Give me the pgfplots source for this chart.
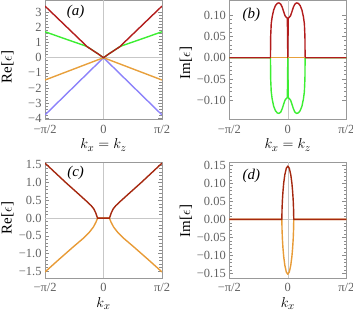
\documentclass[border=0pt]{standalone}
\usepackage{fontspec}
\setmainfont{Liberation Serif}
\usepackage{pgfplots}
\pgfplotsset{compat=1.18}
\definecolor{aRed}{RGB}{178,28,28}
\definecolor{aGreen}{RGB}{60,238,50}
\definecolor{aOrange}{RGB}{232,160,60}
\definecolor{aBlue}{RGB}{140,130,250}
\definecolor{cRed}{RGB}{165,40,15}
\definecolor{cOrange}{RGB}{232,155,55}
\pgfplotsset{
 mystyle/.style={
  scale only axis, width=117bp,
  xmin=-1.5708, xmax=1.5708,
  axis line style={draw=black!40, line width=0.6bp},
  tick style={draw=black!45, line width=0.5bp},
  major tick length=4bp, minor tick length=2.5bp,
  tick align=inside,
  xtick={-1.5708,0,1.5708}, xticklabels={−π/2,0,π/2},
  ticklabel style={font=\fontsize{12.5}{13}\selectfont, text=black!62},
  xticklabel style={yshift=-2bp},
  label style={font=\fontsize{15}{17}\selectfont},
  minor y tick num=4,
  extra x ticks={0}, extra y ticks={0}, extra x tick labels={}, extra y tick labels={},
  extra tick style={grid=major, major grid style={black!22, line width=0.5bp}, major tick length=0pt},
  xlabel style={at={(axis description cs:0.5,0)}, anchor=center, yshift=-25.5bp},
  every axis plot/.append style={line width=1.4bp, line join=round},
 }
}
\begin{document}
\begin{tikzpicture}
\path[use as bounding box] (0,0) rectangle (353bp,317bp);
% (a)
\begin{axis}[mystyle, at={(45bp,197.5bp)}, anchor=south west, height=119.5bp,
  ymin=-4.07, ymax=3.80, ytick={-4,-3,-2,-1,0,1,2,3},
  yticklabels={−4,−3,−2,−1,0,1,2,3},
  xlabel={$k_x = k_z$}, ylabel={Re[$\epsilon$]},
  ylabel style={at={(axis description cs:-0.32,0.44)}, anchor=center}]
\addplot[aBlue] coordinates {(-1.5708,-3.77) (0,0) (1.5708,-3.77)};
\addplot[aOrange] coordinates {(-1.5708,-1.47) (0,0) (1.5708,-1.47)};
\addplot[aGreen] coordinates {(-1.5708,1.71) (-1.1,1.30) (-0.7,0.96) (-0.5,0.79) (-0.436,0.72) (-0.3,0.50) (-0.15,0.26) (0,0) (0.15,0.26) (0.3,0.50) (0.436,0.72) (0.5,0.79) (0.7,0.96) (1.1,1.30) (1.5708,1.71)};
\addplot[aRed] coordinates {(-1.5708,3.40) (-0.436,0.72) (-0.3,0.50) (-0.15,0.26) (0,0) (0.15,0.26) (0.3,0.50) (0.436,0.72) (1.5708,3.40)};
\node[font=\fontsize{15}{16}\selectfont\itshape] at (axis cs:-0.75,3.0) {(a)};
\end{axis}
% (b)
\begin{axis}[mystyle, at={(229.3bp,197.5bp)}, anchor=south west, height=119.5bp,
  ymin=-0.1454, ymax=0.1358, ytick={-0.1,-0.05,0,0.05,0.1},
  yticklabels={−0.10,−0.05,0.00,0.05,0.10},
  minor y tick num=4,
  xlabel={$k_x = k_z$}, ylabel={Im[$\epsilon$]},
  ylabel style={at={(axis description cs:-0.37,0.473)}, anchor=center}]
\addplot[aOrange] coordinates {(-1.5708,0) (1.5708,0)};
\addplot[aGreen] coordinates {(-1.5708,0) (-0.465,0) (-0.46,-0.05) (-0.445,-0.08) (-0.42,-0.097) (-0.38,-0.114) (-0.33,-0.125) (-0.28,-0.130) (-0.235,-0.131) (-0.19,-0.128) (-0.15,-0.120) (-0.11,-0.109) (-0.075,-0.100) (-0.04,-0.096) (-0.012,-0.094) (0,0) (0.012,-0.094) (0.04,-0.096) (0.075,-0.100) (0.11,-0.109) (0.15,-0.120) (0.19,-0.128) (0.235,-0.131) (0.28,-0.130) (0.33,-0.125) (0.38,-0.114) (0.42,-0.097) (0.445,-0.08) (0.46,-0.05) (0.465,0) (1.5708,0)};
\addplot[aRed] coordinates {(-1.5708,0) (-0.465,0) (-0.46,0.05) (-0.445,0.08) (-0.42,0.096) (-0.38,0.112) (-0.33,0.123) (-0.28,0.128) (-0.235,0.129) (-0.19,0.126) (-0.15,0.119) (-0.11,0.108) (-0.075,0.099) (-0.04,0.095) (-0.012,0.093) (0,0) (0.012,0.093) (0.04,0.095) (0.075,0.099) (0.11,0.108) (0.15,0.119) (0.19,0.126) (0.235,0.129) (0.28,0.128) (0.33,0.123) (0.38,0.112) (0.42,0.096) (0.445,0.08) (0.46,0.05) (0.465,0) (1.5708,0)};
\addplot[aOrange, line width=1.2bp] coordinates {(-0.455,0) (-0.01,0)};
\addplot[aOrange, line width=1.2bp] coordinates {(0.01,0) (0.455,0)};
\node[font=\fontsize{15}{16}\selectfont\itshape] at (axis cs:-0.98,0.1) {(b)};
\end{axis}
% (c)
\begin{axis}[mystyle, at={(45bp,39bp)}, anchor=south west, height=115.5bp,
  ymin=-1.69, ymax=1.568, ytick={-1.5,-1,-0.5,0,0.5,1,1.5},
  yticklabels={−1.5,−1.0,−0.5,0.0,0.5,1.0,1.5},
  xlabel={$k_x$}, ylabel={Re[$\epsilon$]},
  ylabel style={at={(axis description cs:-0.32,0.519)}, anchor=center}]
\addplot[cOrange] coordinates {(-1.5708,-1.52) (-1.2,-1.17) (-0.81,-0.81) (-0.52,-0.55) (-0.38,-0.40) (-0.27,-0.25) (-0.2,-0.11) (-0.16,0) (0.16,0) (0.2,-0.11) (0.27,-0.25) (0.38,-0.40) (0.52,-0.55) (0.81,-0.81) (1.2,-1.17) (1.5708,-1.52)};
\addplot[cRed] coordinates {(-1.5708,1.55) (-1.0,0.99) (-0.66,0.67) (-0.45,0.47) (-0.33,0.35) (-0.26,0.26) (-0.21,0.15) (-0.18,0.06) (-0.16,0) (0.16,0) (0.18,0.06) (0.21,0.15) (0.26,0.26) (0.33,0.35) (0.45,0.47) (0.66,0.67) (1.0,0.99) (1.5708,1.55)};
\node[font=\fontsize{15}{16}\selectfont\itshape] at (axis cs:-0.75,1.27) {(c)};
\end{axis}
% (d)
\begin{axis}[mystyle, at={(229.3bp,39bp)}, anchor=south west, height=115.5bp,
  ymin=-0.1625, ymax=0.158, ytick={-0.15,-0.1,-0.05,0,0.05,0.1,0.15},
  yticklabels={−0.15,−0.10,−0.05,0.00,0.05,0.10,0.15},
  xlabel={$k_x$}, ylabel={Im[$\epsilon$]},
  ylabel style={at={(axis description cs:-0.37,0.494)}, anchor=center}]
\addplot[cOrange] coordinates {(-1.5708,0) (-0.16,0) (-0.155,-0.028) (-0.145,-0.054) (-0.13,-0.079) (-0.11,-0.103) (-0.08,-0.127) (-0.04,-0.146) (0,-0.152) (0.04,-0.146) (0.08,-0.127) (0.11,-0.103) (0.13,-0.079) (0.145,-0.054) (0.155,-0.028) (0.16,0) (1.5708,0)};
\addplot[cRed] coordinates {(-1.5708,0) (-0.16,0) (-0.155,0.028) (-0.145,0.053) (-0.13,0.077) (-0.11,0.101) (-0.08,0.124) (-0.04,0.142) (0,0.148) (0.04,0.142) (0.08,0.124) (0.11,0.101) (0.13,0.077) (0.145,0.053) (0.155,0.028) (0.16,0) (1.5708,0)};
\node[font=\fontsize{15}{16}\selectfont\itshape] at (axis cs:-0.98,0.12) {(d)};
\end{axis}
\end{tikzpicture}
\end{document}
